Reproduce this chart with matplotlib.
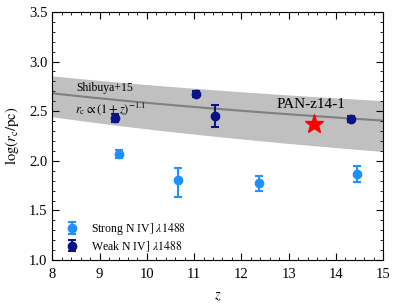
import numpy as np
import matplotlib
matplotlib.use("Agg")
import matplotlib.pyplot as plt

plt.rcParams["font.family"] = ["Liberation Serif", "DejaVu Serif"]
plt.rcParams["mathtext.fontset"] = "stix"

# strong N IV] emitters
strong_z = [9.40, 10.65, 12.37, 14.44]
strong_r = [2.07, 1.81, 1.78, 1.87]
strong_lo = [0.04, 0.17, 0.08, 0.08]
strong_hi = [0.04, 0.12, 0.07, 0.08]

# weak N IV] emitters
weak_z = [9.32, 11.05, 11.44, 14.33]
weak_r = [2.43, 2.67, 2.45, 2.42]
weak_lo = [0.04, 0.03, 0.11, 0.03]
weak_hi = [0.04, 0.03, 0.11, 0.03]

# PAN-z14-1
pan_z = 13.54
pan_r = 2.37

# Shibuya+15 relation: log r = norm + slope * log10(1+z)
shib_norm, shib_slope = 3.73, -1.1
band_up_norm, band_up_slope = 3.81, -1.0
band_lo_norm, band_lo_slope = 3.78, -1.4

fig, ax = plt.subplots(figsize=(3.97, 3.06), dpi=100)
fig.subplots_adjust(left=0.132, right=0.965, bottom=0.150, top=0.961)

zz = np.linspace(8, 15, 100)
lz = np.log10(1 + zz)
ax.fill_between(zz, band_lo_norm + band_lo_slope * lz, band_up_norm + band_up_slope * lz,
                color="#c0c0c0", lw=0, zorder=0)
ax.plot(zz, shib_norm + shib_slope * lz, color="#808080", lw=1.5, zorder=1)

ax.errorbar(strong_z, strong_r, yerr=[strong_lo, strong_hi], fmt="o", color="#1e90ff",
            ms=6, capsize=3, elinewidth=1.5, capthick=1.5, label=r"Strong N IV] $\lambda1488$")
ax.errorbar(weak_z, weak_r, yerr=[weak_lo, weak_hi], fmt="o", color="#0a1486",
            ms=6, capsize=3, elinewidth=1.5, capthick=1.5, label=r"Weak N IV] $\lambda1488$")
ax.plot(pan_z, pan_r, marker="*", color="red", ms=14, ls="none", zorder=5)

ax.text(13.47, 2.57, "PAN-z14-1", fontsize=11, ha="center", va="center")
ax.text(8.5, 2.73, "Shibuya+15", fontsize=8.5, ha="left", va="center")
ax.text(8.48, 2.53, r"$r_{\rm c} \propto (1+z)^{-1.1}$", fontsize=9, ha="left", va="center")

ax.set_xlim(8, 15)
ax.set_ylim(1.0, 3.5)
ax.set_xticks(range(8, 16))
ax.set_yticks([1.0, 1.5, 2.0, 2.5, 3.0, 3.5])
ax.set_xticks(np.arange(8, 15.01, 0.2), minor=True)
ax.set_yticks(np.arange(1.0, 3.51, 0.1), minor=True)
ax.tick_params(which="both", direction="in", top=True, right=True, labelsize=10.5)
ax.tick_params(which="major", length=5)
ax.tick_params(which="minor", length=2.5)
ax.tick_params(axis="x", pad=6)
ax.set_xlabel(r"$z$", fontsize=10.5, labelpad=6)
ax.set_ylabel(r"$\log(r_{\rm c}/{\rm pc})$", fontsize=10.5, labelpad=6)

ax.legend(loc="lower left", frameon=False, fontsize=8.5, handletextpad=0.9,
          labelspacing=0.15, handlelength=1.5, bbox_to_anchor=(0.0, -0.015))

fig.savefig("out.png", dpi=100)
